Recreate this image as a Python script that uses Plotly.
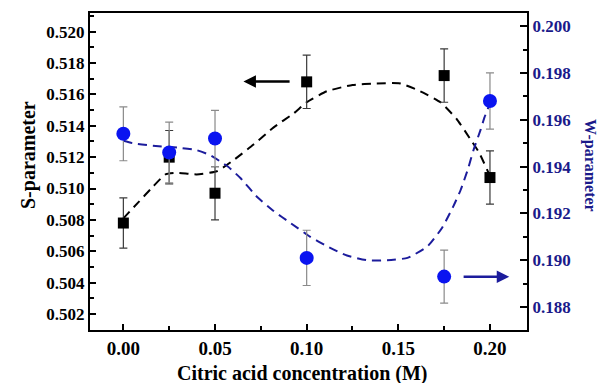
import plotly.graph_objects as go

# ---- data ----
conc = [0.0, 0.025, 0.05, 0.10, 0.175, 0.20]
S_val = [0.5078, 0.5120, 0.5097, 0.5168, 0.5172, 0.5107]
S_err = [0.0016, 0.0017, 0.0017, 0.0017, 0.0017, 0.0017]
W_val = [0.1954, 0.1946, 0.1952, 0.1901, 0.1893, 0.1968]
W_err = [0.00115, 0.0013, 0.0012, 0.00118, 0.00113, 0.0012]

fit_S_x = [0.0, 0.008, 0.016, 0.023, 0.029, 0.040, 0.051, 0.060, 0.071, 0.082, 0.093,
           0.100, 0.111, 0.125, 0.138, 0.151, 0.162, 0.173, 0.182, 0.189, 0.194, 0.200]
fit_S_y = [0.5081, 0.5091, 0.5101, 0.5109, 0.5110, 0.5109, 0.5111, 0.5118, 0.5128, 0.5139, 0.5148,
           0.5155, 0.5162, 0.5166, 0.5167, 0.5167, 0.5162, 0.5155, 0.5144, 0.5132, 0.5123, 0.5108]

fit_W_x = [0.0, 0.005, 0.015, 0.031, 0.040, 0.047, 0.057, 0.064, 0.073, 0.082, 0.091, 0.102,
           0.111, 0.122, 0.133, 0.144, 0.155, 0.166, 0.174, 0.180, 0.184, 0.188, 0.191, 0.195,
           0.197, 0.200]
fit_W_y = [0.1951, 0.1950, 0.1949, 0.1948, 0.1947, 0.1945, 0.1940, 0.1935, 0.1927, 0.1921, 0.1916,
           0.1910, 0.1906, 0.1902, 0.1900, 0.1900, 0.1901, 0.1906, 0.1914, 0.1923, 0.1930, 0.1939,
           0.1947, 0.1956, 0.1961, 0.1967]

x_title = "Citric acid concentration (M)"
yS_title = "S-parameter"
yW_title = "W-parameter"

FONT = "Liberation Serif, Times New Roman, Times, serif"
BLUE_MARK = "#0a14f0"
BLUE_LINE = "#1c1c9c"
BLUE_TEXT = "#1a1a8a"

L, R, T, B = 90, 74, 13, 53
PW, PH = 601 - L - R, 383 - T - B


def px_to_paper(px, py):
    return (px - L) / PW, (383 - B - py) / PH


fig = go.Figure()

fig.add_trace(go.Scatter(x=fit_S_x, y=fit_S_y, mode="lines", line_shape="spline",
                         line=dict(color="black", width=2, dash="9px,6px", smoothing=0.5),
                         yaxis="y", showlegend=False, hoverinfo="skip"))
fig.add_trace(go.Scatter(x=fit_W_x, y=fit_W_y, mode="lines", line_shape="spline",
                         line=dict(color=BLUE_LINE, width=2, dash="9px,6px", smoothing=0.5),
                         yaxis="y2", showlegend=False, hoverinfo="skip"))

fig.add_trace(go.Scatter(x=conc, y=S_val, mode="markers", yaxis="y",
                         marker=dict(symbol="square", size=11, color="black"),
                         error_y=dict(type="data", array=S_err, color="#3a3a3a", thickness=1.2, width=4),
                         showlegend=False))
fig.add_trace(go.Scatter(x=conc, y=W_val, mode="markers", yaxis="y2",
                         marker=dict(symbol="circle", size=14, color=BLUE_MARK),
                         error_y=dict(type="data", array=W_err, color="#8a8a8a", thickness=1.2, width=4),
                         showlegend=False))

# arrows
fig.add_annotation(x=0.0655, y=0.51682, ax=0.0915, ay=0.51682, xref="x", yref="y",
                   axref="x", ayref="y", showarrow=True, arrowhead=2, arrowsize=1,
                   arrowwidth=2.5, arrowcolor="black", text="")
fig.add_annotation(x=0.2105, y=0.18929, ax=0.1848, ay=0.18929, xref="x", yref="y2",
                   axref="x", ayref="y2", showarrow=True, arrowhead=2, arrowsize=1,
                   arrowwidth=2.5, arrowcolor=BLUE_LINE, text="")

# axis titles as text
sx, sy = px_to_paper(28, 155)
fig.add_annotation(x=sx, y=sy, xref="paper", yref="paper", text=yS_title, showarrow=False,
                   xanchor="center", yanchor="middle", textangle=-90,
                   font=dict(family=FONT, size=20, weight="bold", color="black"))
wx, wy = px_to_paper(590, 165)
fig.add_annotation(x=wx, y=wy, xref="paper", yref="paper", text=yW_title, showarrow=False,
                   xanchor="center", yanchor="middle", textangle=90,
                   font=dict(family=FONT, size=16, weight="bold", color=BLUE_TEXT))
tx, ty = px_to_paper(302, 373)
fig.add_annotation(x=tx, y=ty, xref="paper", yref="paper", text=x_title, showarrow=False,
                   xanchor="center", yanchor="middle",
                   font=dict(family=FONT, size=20, weight="bold", color="black"))

fig.update_layout(
    width=601, height=383,
    margin=dict(l=L, r=R, t=T, b=B),
    paper_bgcolor="white", plot_bgcolor="white",
    font=dict(family=FONT, color="black"),
    xaxis=dict(range=[-0.0182, 0.2202], tickvals=[0, 0.05, 0.10, 0.15, 0.20], tickformat=".2f",
               showline=True, linecolor="black", linewidth=2, mirror=True,
               ticks="inside", ticklen=6, tickwidth=2, tickcolor="black",
               minor=dict(ticks="inside", ticklen=4, tickwidth=2, dtick=0.025, tick0=0, tickcolor="black"),
               showgrid=False, zeroline=False,
               tickfont=dict(family=FONT, size=19, weight="bold")),
    yaxis=dict(range=[0.50098, 0.52119], dtick=0.002, tick0=0.502, tickformat=".3f",
               showline=True, linecolor="black", linewidth=2,
               ticks="inside", ticklen=6, tickwidth=2, tickcolor="black",
               minor=dict(ticks="inside", ticklen=4, tickwidth=2, dtick=0.001, tickcolor="black"),
               showgrid=False, zeroline=False,
               tickfont=dict(family=FONT, size=17, weight="bold")),
    yaxis2=dict(range=[0.18702, 0.20056], dtick=0.002, tick0=0.188, tickformat=".3f",
                overlaying="y", side="right",
                showline=True, linecolor="black", linewidth=2,
                ticks="inside", ticklen=7, tickwidth=2, tickcolor="black",
                minor=dict(ticks="inside", ticklen=4, tickwidth=2, dtick=0.001, tickcolor="black"),
                showgrid=False, zeroline=False,
                tickfont=dict(family=FONT, size=17, weight="bold", color=BLUE_TEXT)),
)

fig.write_html("out.html")
